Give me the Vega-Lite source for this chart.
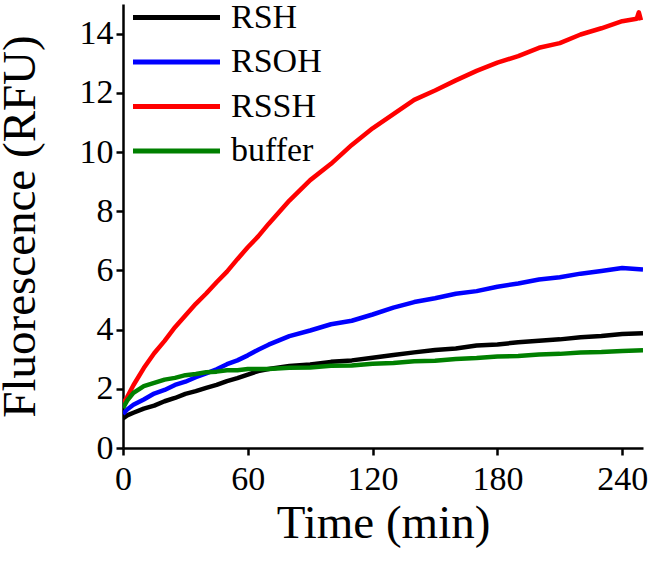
{
  "$schema": "https://vega.github.io/schema/vega-lite/v6.json",
  "autosize": "none",
  "width": 520,
  "height": 444,
  "padding": {"left": 123, "top": 4, "right": 7, "bottom": 115},
  "background": "white",
  "config": {
    "view": {"stroke": null},
    "font": "Liberation Serif",
    "axis": {
      "grid": false,
      "domainColor": "black",
      "domainWidth": 2.5,
      "tickColor": "black",
      "tickWidth": 2.5,
      "tickSize": 7,
      "labelFont": "Liberation Serif",
      "labelFontSize": 34,
      "labelColor": "black",
      "titleFont": "Liberation Serif",
      "titleFontSize": 47,
      "titleFontWeight": "normal",
      "titleColor": "black"
    },
    "legend": {
      "labelFont": "Liberation Serif",
      "labelFontSize": 34,
      "labelColor": "black"
    }
  },
  "data": {
    "values": [
      {"t": 0, "v": 1.0, "s": "RSH"}, {"t": 2, "v": 1.1, "s": "RSH"}, {"t": 5, "v": 1.19, "s": "RSH"}, {"t": 10, "v": 1.33, "s": "RSH"}, {"t": 15, "v": 1.43, "s": "RSH"}, {"t": 20, "v": 1.58, "s": "RSH"}, {"t": 25, "v": 1.69, "s": "RSH"}, {"t": 30, "v": 1.83, "s": "RSH"}, {"t": 35, "v": 1.92, "s": "RSH"}, {"t": 40, "v": 2.03, "s": "RSH"}, {"t": 45, "v": 2.13, "s": "RSH"}, {"t": 50, "v": 2.26, "s": "RSH"}, {"t": 55, "v": 2.36, "s": "RSH"}, {"t": 60, "v": 2.48, "s": "RSH"}, {"t": 65, "v": 2.6, "s": "RSH"}, {"t": 70, "v": 2.67, "s": "RSH"}, {"t": 80, "v": 2.77, "s": "RSH"}, {"t": 90, "v": 2.82, "s": "RSH"}, {"t": 100, "v": 2.91, "s": "RSH"}, {"t": 110, "v": 2.96, "s": "RSH"}, {"t": 120, "v": 3.05, "s": "RSH"}, {"t": 130, "v": 3.14, "s": "RSH"}, {"t": 140, "v": 3.23, "s": "RSH"}, {"t": 150, "v": 3.31, "s": "RSH"}, {"t": 160, "v": 3.36, "s": "RSH"}, {"t": 170, "v": 3.46, "s": "RSH"}, {"t": 180, "v": 3.5, "s": "RSH"}, {"t": 190, "v": 3.57, "s": "RSH"}, {"t": 200, "v": 3.62, "s": "RSH"}, {"t": 210, "v": 3.67, "s": "RSH"}, {"t": 220, "v": 3.74, "s": "RSH"}, {"t": 230, "v": 3.78, "s": "RSH"}, {"t": 240, "v": 3.85, "s": "RSH"}, {"t": 250, "v": 3.88, "s": "RSH"},
      {"t": 0, "v": 1.15, "s": "RSOH"}, {"t": 2, "v": 1.3, "s": "RSOH"}, {"t": 5, "v": 1.46, "s": "RSOH"}, {"t": 10, "v": 1.64, "s": "RSOH"}, {"t": 15, "v": 1.84, "s": "RSOH"}, {"t": 20, "v": 1.96, "s": "RSOH"}, {"t": 25, "v": 2.13, "s": "RSOH"}, {"t": 30, "v": 2.24, "s": "RSOH"}, {"t": 35, "v": 2.39, "s": "RSOH"}, {"t": 40, "v": 2.52, "s": "RSOH"}, {"t": 45, "v": 2.66, "s": "RSOH"}, {"t": 50, "v": 2.83, "s": "RSOH"}, {"t": 55, "v": 2.96, "s": "RSOH"}, {"t": 60, "v": 3.13, "s": "RSOH"}, {"t": 65, "v": 3.32, "s": "RSOH"}, {"t": 70, "v": 3.49, "s": "RSOH"}, {"t": 80, "v": 3.78, "s": "RSOH"}, {"t": 90, "v": 3.97, "s": "RSOH"}, {"t": 100, "v": 4.18, "s": "RSOH"}, {"t": 110, "v": 4.3, "s": "RSOH"}, {"t": 120, "v": 4.51, "s": "RSOH"}, {"t": 130, "v": 4.74, "s": "RSOH"}, {"t": 140, "v": 4.93, "s": "RSOH"}, {"t": 150, "v": 5.06, "s": "RSOH"}, {"t": 160, "v": 5.21, "s": "RSOH"}, {"t": 170, "v": 5.3, "s": "RSOH"}, {"t": 180, "v": 5.45, "s": "RSOH"}, {"t": 190, "v": 5.56, "s": "RSOH"}, {"t": 200, "v": 5.69, "s": "RSOH"}, {"t": 210, "v": 5.77, "s": "RSOH"}, {"t": 220, "v": 5.89, "s": "RSOH"}, {"t": 230, "v": 5.98, "s": "RSOH"}, {"t": 240, "v": 6.08, "s": "RSOH"}, {"t": 250, "v": 6.03, "s": "RSOH"},
      {"t": 0, "v": 1.5, "s": "RSSH"}, {"t": 2, "v": 1.72, "s": "RSSH"}, {"t": 5, "v": 2.12, "s": "RSSH"}, {"t": 10, "v": 2.7, "s": "RSSH"}, {"t": 15, "v": 3.2, "s": "RSSH"}, {"t": 20, "v": 3.62, "s": "RSSH"}, {"t": 25, "v": 4.08, "s": "RSSH"}, {"t": 30, "v": 4.48, "s": "RSSH"}, {"t": 35, "v": 4.87, "s": "RSSH"}, {"t": 40, "v": 5.22, "s": "RSSH"}, {"t": 45, "v": 5.6, "s": "RSSH"}, {"t": 50, "v": 5.96, "s": "RSSH"}, {"t": 55, "v": 6.38, "s": "RSSH"}, {"t": 60, "v": 6.78, "s": "RSSH"}, {"t": 65, "v": 7.15, "s": "RSSH"}, {"t": 70, "v": 7.57, "s": "RSSH"}, {"t": 80, "v": 8.36, "s": "RSSH"}, {"t": 90, "v": 9.05, "s": "RSSH"}, {"t": 100, "v": 9.6, "s": "RSSH"}, {"t": 110, "v": 10.24, "s": "RSSH"}, {"t": 120, "v": 10.8, "s": "RSSH"}, {"t": 130, "v": 11.28, "s": "RSSH"}, {"t": 140, "v": 11.76, "s": "RSSH"}, {"t": 150, "v": 12.08, "s": "RSSH"}, {"t": 160, "v": 12.42, "s": "RSSH"}, {"t": 170, "v": 12.74, "s": "RSSH"}, {"t": 180, "v": 13.02, "s": "RSSH"}, {"t": 190, "v": 13.24, "s": "RSSH"}, {"t": 200, "v": 13.52, "s": "RSSH"}, {"t": 210, "v": 13.68, "s": "RSSH"}, {"t": 220, "v": 13.97, "s": "RSSH"}, {"t": 230, "v": 14.18, "s": "RSSH"}, {"t": 240, "v": 14.42, "s": "RSSH"}, {"t": 247, "v": 14.5, "s": "RSSH"}, {"t": 248, "v": 14.72, "s": "RSSH"}, {"t": 249, "v": 14.45, "s": "RSSH"},
      {"t": 0, "v": 1.35, "s": "buffer"}, {"t": 2, "v": 1.6, "s": "buffer"}, {"t": 5, "v": 1.86, "s": "buffer"}, {"t": 8, "v": 2.0, "s": "buffer"}, {"t": 10, "v": 2.09, "s": "buffer"}, {"t": 15, "v": 2.2, "s": "buffer"}, {"t": 20, "v": 2.31, "s": "buffer"}, {"t": 25, "v": 2.37, "s": "buffer"}, {"t": 30, "v": 2.46, "s": "buffer"}, {"t": 35, "v": 2.5, "s": "buffer"}, {"t": 40, "v": 2.56, "s": "buffer"}, {"t": 45, "v": 2.58, "s": "buffer"}, {"t": 50, "v": 2.63, "s": "buffer"}, {"t": 55, "v": 2.63, "s": "buffer"}, {"t": 60, "v": 2.67, "s": "buffer"}, {"t": 70, "v": 2.67, "s": "buffer"}, {"t": 80, "v": 2.71, "s": "buffer"}, {"t": 90, "v": 2.72, "s": "buffer"}, {"t": 100, "v": 2.78, "s": "buffer"}, {"t": 110, "v": 2.79, "s": "buffer"}, {"t": 120, "v": 2.85, "s": "buffer"}, {"t": 130, "v": 2.87, "s": "buffer"}, {"t": 140, "v": 2.93, "s": "buffer"}, {"t": 150, "v": 2.95, "s": "buffer"}, {"t": 160, "v": 3.01, "s": "buffer"}, {"t": 170, "v": 3.04, "s": "buffer"}, {"t": 180, "v": 3.09, "s": "buffer"}, {"t": 190, "v": 3.11, "s": "buffer"}, {"t": 200, "v": 3.16, "s": "buffer"}, {"t": 210, "v": 3.18, "s": "buffer"}, {"t": 220, "v": 3.23, "s": "buffer"}, {"t": 230, "v": 3.24, "s": "buffer"}, {"t": 240, "v": 3.28, "s": "buffer"}, {"t": 250, "v": 3.3, "s": "buffer"}
    ]
  },
  "mark": {"type": "line", "strokeWidth": 4.5, "strokeJoin": "round", "clip": true},
  "encoding": {
    "x": {
      "field": "t", "type": "quantitative",
      "scale": {"domain": [0, 250], "nice": false},
      "axis": {"title": "Time (min)", "values": [0, 60, 120, 180, 240], "labelPadding": 7, "titleX": 260, "titleY": 89, "titleBaseline": "alphabetic", "titleAnchor": "middle", "labelFlush": false}
    },
    "y": {
      "field": "v", "type": "quantitative",
      "scale": {"domain": [0, 15], "nice": false},
      "axis": {"title": "Fluorescence (RFU)", "values": [0, 2, 4, 6, 8, 10, 12, 14], "labelPadding": 3, "titleX": -89, "titleY": 222, "titleBaseline": "alphabetic", "titleAngle": 270, "titleAlign": "center", "titleAnchor": "middle"}
    },
    "color": {
      "field": "s", "type": "nominal",
      "scale": {"domain": ["RSH", "RSOH", "RSSH", "buffer"], "range": ["#000000", "#0000ff", "#ff0000", "#008000"]},
      "legend": {"title": null, "orient": "none", "legendX": 29, "legendY": -11, "symbolType": "M-2,0H2", "symbolSize": 1892, "symbolStrokeWidth": 5, "labelOffset": 30, "rowPadding": 2.5, "padding": 0}
    }
  }
}
